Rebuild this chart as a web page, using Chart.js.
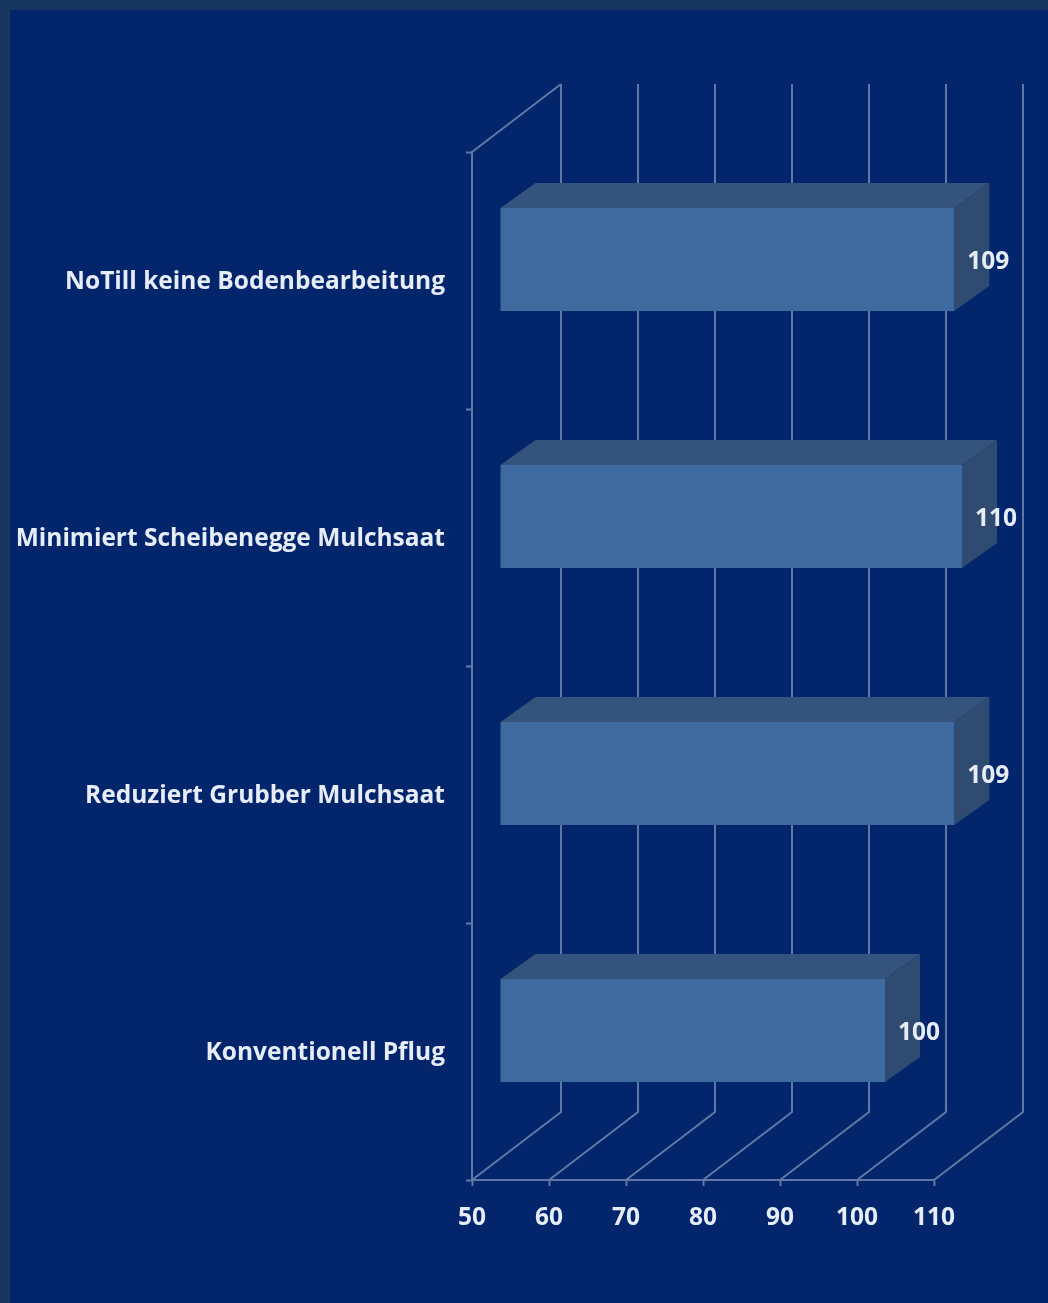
<!DOCTYPE html>
<html lang="de">
<head>
<meta charset="utf-8">
<title>Bodenbearbeitung</title>
<script src="https://cdn.jsdelivr.net/npm/chart.js@4"></script>
<style>
  html, body { margin: 0; height: 100%; background: #17375e; overflow: hidden; }
  #panel { position: absolute; left: 10px; top: 10px; right: 0; bottom: 0; background: #03256b; }
  #chart { position: absolute; left: 0; top: 0; display: block; }
</style>
</head>
<body>
<div id="panel"></div>
<canvas id="chart" width="1048" height="1303"></canvas>
<script>
// Daten
var kategorien = ['NoTill keine Bodenbearbeitung', 'Minimiert Scheibenegge Mulchsaat', 'Reduziert Grubber Mulchsaat', 'Konventionell Pflug'];
var werte = [109, 110, 109, 100];
var achseMin = 50;
var achseMax = 110;
var achseSchritt = 10;

var LINIE = '#5f78a8';
var TEXT = '#e6edf8';
var SCHRIFT = '"Open Sans", sans-serif';
var GROESSE = 24.5;

// Raumtiefe der Rueckwand und Lage/Tiefe der Balken
var WAND_X = 89, WAND_Y = -68;
var BALKEN_X = 28, BALKEN_Y = -21;
var TIEFE_X = 35, TIEFE_Y = -25;

// Rueckwand und Boden hinter den Balken
var wandPlugin = {
  id: 'wand',
  beforeDatasetsDraw: function(chart) {
    var ctx = chart.ctx, a = chart.chartArea, x = chart.scales.x;
    ctx.save();
    ctx.strokeStyle = LINIE;
    ctx.lineWidth = 2;
    x.ticks.forEach(function(t) {
      var px = x.getPixelForValue(t.value);
      ctx.beginPath();
      ctx.moveTo(px, a.bottom);
      ctx.lineTo(px + WAND_X, a.bottom + WAND_Y);
      ctx.lineTo(px + WAND_X, a.top + WAND_Y);
      ctx.stroke();
    });
    ctx.beginPath();
    ctx.moveTo(a.left, a.top);
    ctx.lineTo(a.left + WAND_X, a.top + WAND_Y);
    ctx.stroke();
    ctx.restore();
  }
};

// Balken versetzt zeichnen, Ober- und Seitenflaeche dazu
var balkenPlugin = {
  id: 'balken3d',
  beforeDatasetDraw: function(chart) {
    var ctx = chart.ctx;
    ctx.save();
    ctx.translate(BALKEN_X, BALKEN_Y);
    chart.getDatasetMeta(0).data.forEach(function(bar) {
      var oben = bar.y - bar.height / 2, unten = bar.y + bar.height / 2;
      ctx.fillStyle = '#34547e';
      ctx.beginPath();
      ctx.moveTo(bar.base, oben);
      ctx.lineTo(bar.base + TIEFE_X, oben + TIEFE_Y);
      ctx.lineTo(bar.x + TIEFE_X, oben + TIEFE_Y);
      ctx.lineTo(bar.x, oben);
      ctx.closePath();
      ctx.fill();
      ctx.fillStyle = '#2f4b72';
      ctx.beginPath();
      ctx.moveTo(bar.x, oben);
      ctx.lineTo(bar.x + TIEFE_X, oben + TIEFE_Y);
      ctx.lineTo(bar.x + TIEFE_X, unten + TIEFE_Y);
      ctx.lineTo(bar.x, unten);
      ctx.closePath();
      ctx.fill();
    });
  },
  afterDatasetDraw: function(chart) {
    chart.ctx.restore();
  },
  afterDatasetsDraw: function(chart) {
    var ctx = chart.ctx, y = chart.scales.y;
    ctx.save();
    ctx.fillStyle = TEXT;
    ctx.font = 'bold ' + GROESSE + 'px ' + SCHRIFT;
    ctx.textBaseline = 'middle';
    // Werte neben den Balken
    ctx.textAlign = 'center';
    chart.getDatasetMeta(0).data.forEach(function(bar, i) {
      ctx.fillText(werte[i], bar.x + BALKEN_X + 34, bar.y + BALKEN_Y + 2.5);
    });
    // Kategorien links, rechtsbuendig
    ctx.textAlign = 'right';
    kategorien.forEach(function(name, i) {
      ctx.fillText(name, 445, y.getPixelForValue(i) + 2);
    });
    ctx.restore();
  }
};

new Chart(document.getElementById('chart').getContext('2d'), {
  type: 'bar',
  data: {
    labels: kategorien,
    datasets: [{
      data: werte,
      base: achseMin,
      backgroundColor: '#3f6a9f',
      borderWidth: 0,
      barPercentage: 1,
      categoryPercentage: 0.4
    }]
  },
  plugins: [wandPlugin, balkenPlugin],
  options: {
    indexAxis: 'y',
    responsive: false,
    animation: false,
    layout: { padding: { top: 152, right: 114, left: 0, bottom: 0 } },
    plugins: { legend: { display: false }, tooltip: { enabled: false } },
    scales: {
      x: {
        min: achseMin,
        max: achseMax,
        afterFit: function(scale) { scale.height = 123; },
        ticks: {
          stepSize: achseSchritt,
          color: TEXT,
          padding: 17,
          maxRotation: 0,
          font: { family: SCHRIFT, size: GROESSE, weight: 'bold' }
        },
        grid: { drawOnChartArea: false, drawTicks: true, tickLength: 6, tickColor: LINIE, tickWidth: 2 },
        border: { display: true, color: LINIE, width: 2 }
      },
      y: {
        afterFit: function(scale) { scale.width = 472; },
        ticks: { display: false },
        grid: { drawOnChartArea: false, drawTicks: true, tickLength: 6, tickColor: LINIE, tickWidth: 2, offset: true },
        border: { display: true, color: LINIE, width: 2 }
      }
    }
  }
});
</script>
</body>
</html>
